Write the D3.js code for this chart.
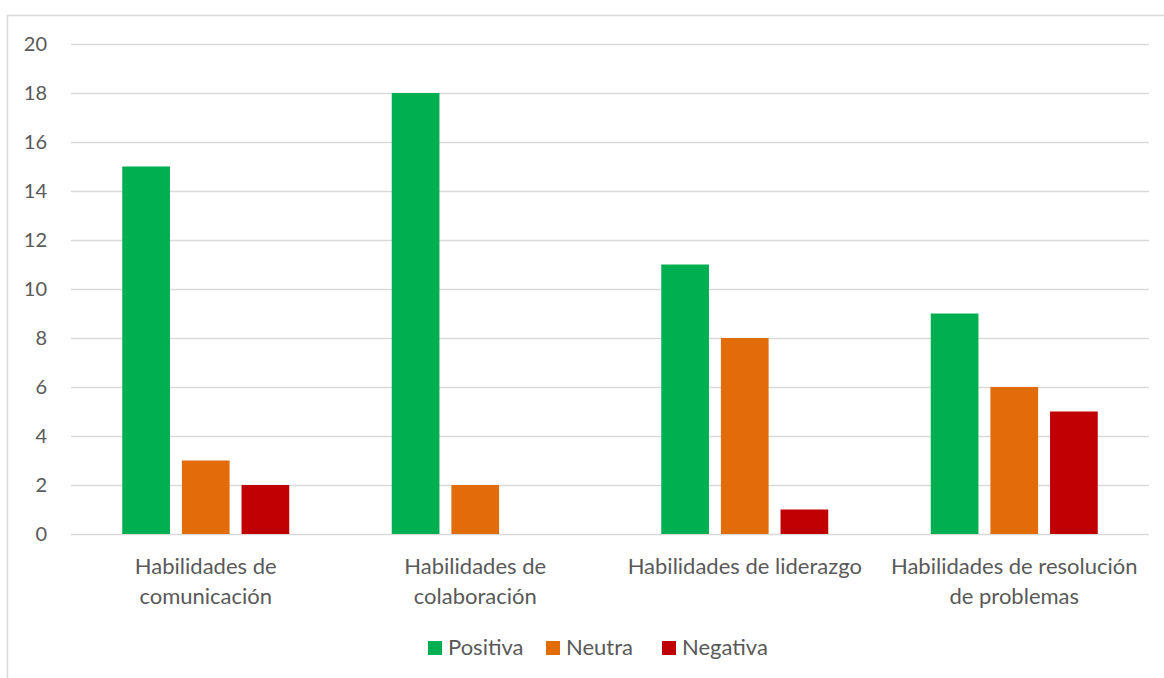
<!DOCTYPE html>
<html><head><meta charset="utf-8">
<script src="https://cdn.jsdelivr.net/npm/d3@7"></script>
<style>body{margin:0;background:#fff;} text{font-family:Lato, "Open Sans", sans-serif;fill:#595959;}</style>
</head><body>
<svg id="c" width="1164" height="678"></svg>
<script>
const categories = [["Habilidades de","comunicación"],["Habilidades de","colaboración"],["Habilidades de liderazgo"],["Habilidades de resolución","de problemas"]];
const seriesNames = ["Positiva","Neutra","Negativa"];
const positiva = [15,18,11,9];
const neutra = [3,2,8,6];
const negativa = [2,0,1,5];
const yTicks = [0,2,4,6,8,10,12,14,16,18,20];
const colors = ["#00B050","#E36C0A","#C00000"];

(function(){
const svg = d3.select("#c");
svg.append("rect").attr("x",7.5).attr("y",15.5).attr("width",1170).attr("height",700)
  .attr("fill","none").attr("stroke","#d9d9d9").attr("stroke-width",1.5);

const pl=71,pr=1149,pt=44,pb=534;
const x = d3.scaleBand().domain(d3.range(categories.length)).range([pl,pr]);
const y = d3.scaleLinear().domain([0,20]).range([pb,pt]);
const inner = d3.scaleBand().domain(d3.range(3)).range([0,167]).paddingInner(0.2);

const yAxis = d3.axisLeft(y).tickValues(yTicks).tickSize(-(pr-pl)).tickPadding(24);
const gy = svg.append("g").attr("transform",`translate(${pl},0)`).call(yAxis);
gy.select(".domain").remove();
gy.selectAll(".tick line").attr("stroke","#d9d9d9").attr("stroke-width",1.5);
gy.selectAll(".tick text").attr("font-size",20).attr("font-family",null).style("fill","#595959");

const data = [positiva,neutra,negativa];
data.forEach((vals,si)=>{
  svg.append("g").selectAll("rect").data(vals).join("rect")
    .attr("x",(d,i)=>x(i)+x.bandwidth()/2-83.5+inner(si))
    .attr("width",inner.bandwidth())
    .attr("y",d=>y(d)).attr("height",d=>y(0)-y(d))
    .attr("fill",colors[si]);
});

const cl = svg.append("g");
categories.forEach((lines,i)=>{
  const t = cl.append("text").attr("text-anchor","middle").attr("font-size",22)
    .attr("x",x(i)+x.bandwidth()/2).attr("y",574);
  lines.forEach((l,j)=>t.append("tspan").attr("x",x(i)+x.bandwidth()/2).attr("dy",j?30:0).text(l));
});

const lg = svg.append("g");
const legX=[428,546,662];
seriesNames.forEach((n,i)=>{
  lg.append("rect").attr("x",legX[i]).attr("y",641).attr("width",14).attr("height",14).attr("fill",colors[i]);
  lg.append("text").attr("x",legX[i]+20).attr("y",655).attr("font-size",22).text(n);
});
})();
</script>
</body></html>
